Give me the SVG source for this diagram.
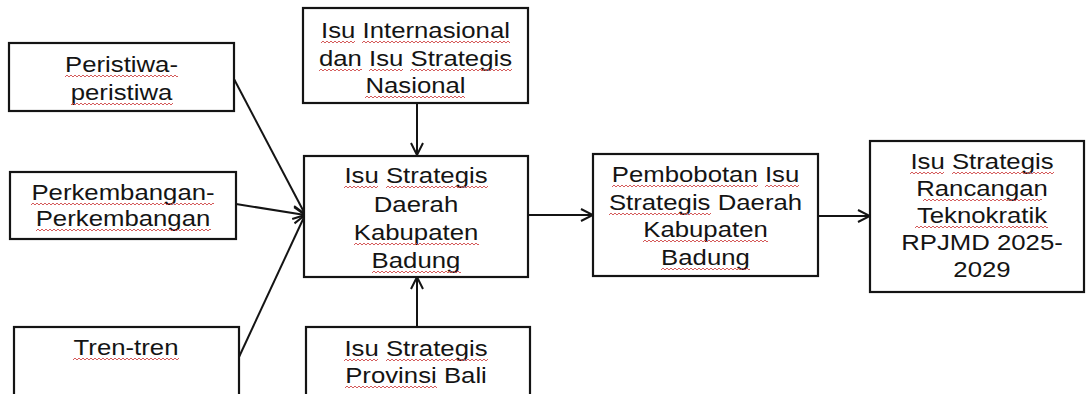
<svg xmlns="http://www.w3.org/2000/svg" width="1086" height="394" viewBox="0 0 1086 394">
<style>
.box{fill:#fff;stroke:#141414;stroke-width:2.2}
.t{font-family:"Liberation Sans",Arial,sans-serif;font-size:23px;fill:#141414;text-anchor:middle}
.c{fill:none;stroke:#141414;stroke-width:2}
.w{overflow:hidden}
</style>
<defs>
<marker id="arr" viewBox="0 0 14 14" refX="13" refY="7" markerWidth="14" markerHeight="14" markerUnits="userSpaceOnUse" orient="auto">
<path d="M1 1 L13 7 L1 13" fill="none" stroke="#141414" stroke-width="2"/>
</marker>
<pattern id="wave" width="4" height="4" patternUnits="userSpaceOnUse">
<path d="M0 3 L2 1 L4 3" fill="none" stroke="#d04848" stroke-width="0.9"/>
</pattern>
<rect id="wv" width="300" height="4" fill="url(#wave)"/>
</defs>
<rect width="1086" height="394" fill="#fff"/>
<g id="connectors">
<line class="c" x1="234" y1="79" x2="305" y2="214" marker-end="url(#arr)"/>
<line class="c" x1="236" y1="204" x2="305" y2="215" marker-end="url(#arr)"/>
<line class="c" x1="239" y1="357" x2="305" y2="215" marker-end="url(#arr)"/>
<line class="c" x1="417" y1="103" x2="417" y2="155" marker-end="url(#arr)"/>
<line class="c" x1="417" y1="327" x2="417" y2="277" marker-end="url(#arr)"/>
<line class="c" x1="528" y1="215" x2="593" y2="215" marker-end="url(#arr)"/>
<line class="c" x1="818" y1="216" x2="870" y2="216" marker-end="url(#arr)"/>
</g>
<g id="peristiwa">
<rect class="box" x="9" y="43" width="225" height="68"/>
<text class="t" transform="translate(121.5 0) scale(1.12 1)"><tspan x="0" y="72">Peristiwa-</tspan><tspan x="0" y="100">peristiwa</tspan></text>
<svg class="w" x="65" y="74" width="113" height="4"><use href="#wv"/></svg>
<svg class="w" x="71" y="102" width="102" height="4"><use href="#wv"/></svg>
</g>
<g id="perkembangan">
<rect class="box" x="10" y="172" width="226" height="67"/>
<text class="t" transform="translate(123 0) scale(1.12 1)"><tspan x="0" y="200">Perkembangan-</tspan><tspan x="0" y="226">Perkembangan</tspan></text>
<svg class="w" x="31" y="202" width="183" height="4"><use href="#wv"/></svg>
<svg class="w" x="36" y="228" width="175" height="4"><use href="#wv"/></svg>
</g>
<g id="tren">
<rect class="box" x="14" y="327" width="225" height="80"/>
<text class="t" transform="translate(126 0) scale(1.12 1)"><tspan x="0" y="355">Tren-tren</tspan></text>
<svg class="w" x="73" y="357" width="106" height="4"><use href="#wv"/></svg>
</g>
<g id="isu-internasional">
<rect class="box" x="303" y="8" width="225" height="95"/>
<text class="t" transform="translate(415.5 0) scale(1.12 1)"><tspan x="0" y="38">Isu Internasional</tspan><tspan x="0" y="66">dan Isu Strategis</tspan><tspan x="0" y="93">Nasional</tspan></text>
<svg class="w" x="321" y="40" width="34" height="4"><use href="#wv"/></svg>
<svg class="w" x="362" y="40" width="148" height="4"><use href="#wv"/></svg>
<svg class="w" x="319" y="68" width="43" height="4"><use href="#wv"/></svg>
<svg class="w" x="369" y="68" width="34" height="4"><use href="#wv"/></svg>
<svg class="w" x="410" y="68" width="102" height="4"><use href="#wv"/></svg>
<svg class="w" x="365" y="95" width="100" height="4"><use href="#wv"/></svg>
</g>
<g id="isu-daerah">
<rect class="box" x="304" y="156" width="224" height="121"/>
<text class="t" transform="translate(416 0) scale(1.12 1)"><tspan x="0" y="183">Isu Strategis</tspan><tspan x="0" y="212">Daerah</tspan><tspan x="0" y="240">Kabupaten</tspan><tspan x="0" y="268">Badung</tspan></text>
<svg class="w" x="344" y="185" width="34" height="4"><use href="#wv"/></svg>
<svg class="w" x="386" y="185" width="102" height="4"><use href="#wv"/></svg>
<svg class="w" x="354" y="242" width="125" height="4"><use href="#wv"/></svg>
<svg class="w" x="372" y="270" width="89" height="4"><use href="#wv"/></svg>
</g>
<g id="isu-provinsi">
<rect class="box" x="306" y="327" width="224" height="80"/>
<text class="t" transform="translate(416 0) scale(1.12 1)"><tspan x="0" y="356">Isu Strategis</tspan><tspan x="0" y="383">Provinsi Bali</tspan></text>
<svg class="w" x="344" y="358" width="34" height="4"><use href="#wv"/></svg>
<svg class="w" x="386" y="358" width="102" height="4"><use href="#wv"/></svg>
<svg class="w" x="345" y="385" width="92" height="4"><use href="#wv"/></svg>
</g>
<g id="pembobotan">
<rect class="box" x="593" y="154" width="225" height="122"/>
<text class="t" transform="translate(705.5 0) scale(1.12 1)"><tspan x="0" y="182">Pembobotan Isu</tspan><tspan x="0" y="210">Strategis Daerah</tspan><tspan x="0" y="237">Kabupaten</tspan><tspan x="0" y="265">Badung</tspan></text>
<svg class="w" x="612" y="184" width="146" height="4"><use href="#wv"/></svg>
<svg class="w" x="765" y="184" width="34" height="4"><use href="#wv"/></svg>
<svg class="w" x="609" y="212" width="102" height="4"><use href="#wv"/></svg>
<svg class="w" x="643" y="239" width="125" height="4"><use href="#wv"/></svg>
<svg class="w" x="661" y="267" width="89" height="4"><use href="#wv"/></svg>
</g>
<g id="isu-rancangan">
<rect class="box" x="870" y="141" width="214" height="151"/>
<text class="t" transform="translate(982 0) scale(1.12 1)"><tspan x="0" y="169">Isu Strategis</tspan><tspan x="0" y="196">Rancangan</tspan><tspan x="0" y="223">Teknokratik</tspan><tspan x="0" y="250">RPJMD 2025-</tspan><tspan x="0" y="277">2029</tspan></text>
<svg class="w" x="910" y="171" width="34" height="4"><use href="#wv"/></svg>
<svg class="w" x="952" y="171" width="102" height="4"><use href="#wv"/></svg>
<svg class="w" x="923" y="198" width="119" height="4"><use href="#wv"/></svg>
<svg class="w" x="915" y="225" width="133" height="4"><use href="#wv"/></svg>
</g>
</svg>
